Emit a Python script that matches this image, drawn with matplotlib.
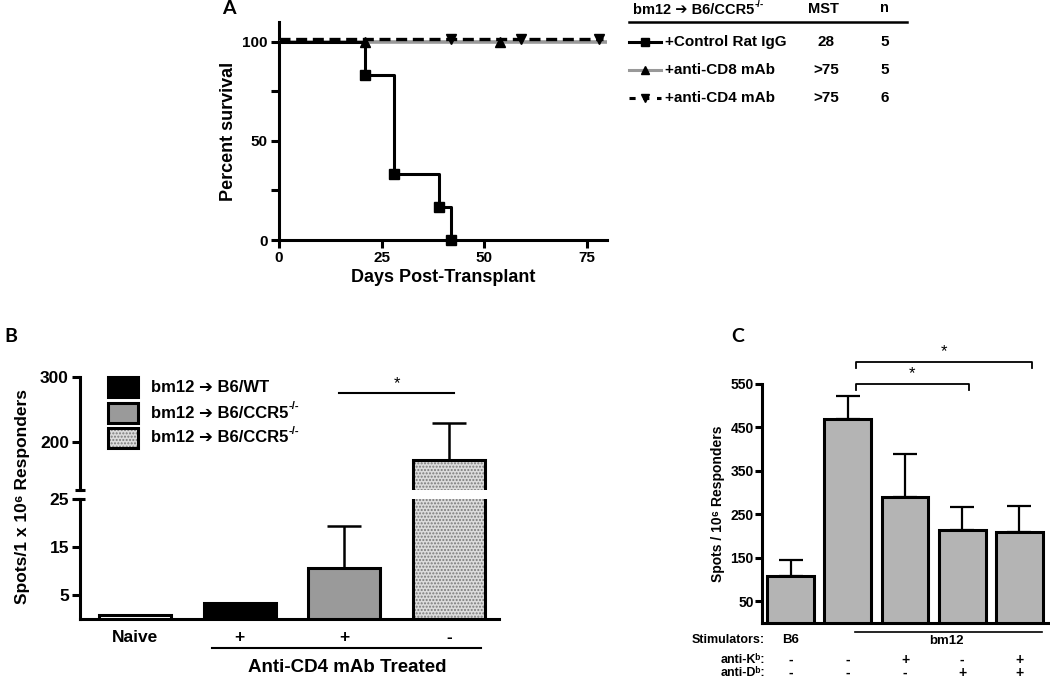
import matplotlib
matplotlib.use('Agg')
import matplotlib.pyplot as plt
import matplotlib.transforms as mtransforms
from matplotlib.lines import Line2D
from matplotlib.patches import Rectangle

# ---- Panel A: survival data ----
ctrl_days = [0, 21, 28, 39, 42]
ctrl_surv = [100, 83.3, 33.3, 16.7, 0]
cd8_days = [0, 80]
cd8_surv = [100, 100]
cd8_censored = [21, 54]
cd8_censored_surv = [100, 100]
cd4_days = [0, 79]
cd4_surv = [100, 100]
cd4_censored = [42, 59, 78]
cd4_censored_surv = [100, 100, 100]
table_rows = ['+Control Rat IgG', '+anti-CD8 mAb', '+anti-CD4 mAb']
table_mst = ['28', '>75', '>75']
table_n = ['5', '5', '6']

# ---- Panel B: ELISPOT, broken axis ----
b_labels = ['Naive', '+', '+', '-']
b_means = [0.9, 3.3, 10.6, 172]
b_sem = [0, 0, 8.8, 57]
b_legend = ['bm12 \u2794 B6/WT', 'bm12 \u2794 B6/CCR5', 'bm12 \u2794 B6/CCR5']

# ---- Panel C: ELISPOT with blocking antibodies ----
c_means = [108, 469, 289, 213, 209]
c_sem = [37, 54, 100, 55, 61]
c_kb = ['-', '-', '+', '-', '+']
c_db = ['-', '-', '-', '+', '+']

plt.rcParams['font.family'] = ['Liberation Sans', 'DejaVu Sans']
plt.rcParams['font.weight'] = 'bold'
plt.rcParams['axes.labelweight'] = 'bold'
plt.rcParams['axes.linewidth'] = 2.2
plt.rcParams['hatch.linewidth'] = 1.0

W, H = 1050, 682
fig = plt.figure(figsize=(W / 100, H / 100), dpi=100)


def px_axes(l, t, r, b):
    return fig.add_axes([l / W, 1 - b / H, (r - l) / W, (b - t) / H])


# overlay axes in pixel coordinates for annotations (drawn on top)
ov = fig.add_axes([0, 0, 1, 1])
ov.set_xlim(0, W)
ov.set_ylim(H, 0)
ov.axis('off')
ov.set_zorder(10)


def sup(txt_artist, s, size):
    ov.annotate(s, xy=(1.0, 0.95), xycoords=txt_artist, ha='left', va='center',
                fontsize=size)


# panel letters
for letter, (x, y) in zip('ABC', [(229, 9), (11, 336), (738, 337)]):
    ov.text(x, y, letter, fontsize=14, family=['Lato', 'DejaVu Sans'],
            weight='bold', ha='center', va='center')

# ================= Panel A =================
axA = px_axes(279, 22, 607, 240)
axA.plot(ctrl_days, ctrl_surv, color='black', lw=2.2, drawstyle='steps-post',
         marker='s', ms=7, markevery=slice(1, None), clip_on=False, zorder=5)
axA.plot(cd8_days, cd8_surv, color='#999999', lw=2.6, zorder=3)
axA.plot(cd8_censored, cd8_censored_surv, ls='none', marker='^', color='black',
         ms=7, zorder=4)
up = mtransforms.offset_copy(axA.transData, fig=fig, x=0, y=2, units='points')
axA.plot(cd4_days, cd4_surv, color='black', lw=2.4, ls=(0, (3.3, 1.7)),
         transform=up, zorder=4, clip_on=False)
axA.plot(cd4_censored, cd4_censored_surv, ls='none', marker='v', color='black',
         ms=7, transform=up, zorder=4, clip_on=False)
axA.set_xlim(0, 80)
axA.set_ylim(0, 110)
axA.set_xticks([0, 25, 50, 75])
axA.set_yticks([0, 25, 50, 75, 100])
axA.set_yticklabels(['0', '', '50', '', '100'])
axA.spines[['top', 'right']].set_visible(False)
axA.tick_params(width=2.2, length=6, labelsize=11, pad=2)
axA.set_xlabel('Days Post-Transplant', fontsize=13, labelpad=3)
axA.set_ylabel('Percent survival', fontsize=13, labelpad=4)

# survival table / legend
t = ov.text(633, 10, 'bm12 \u2794 B6/CCR5', fontsize=10.5, ha='left', va='center')
sup(t, '-/-', 7)
ov.text(823, 9, 'MST', fontsize=10.5, ha='center', va='center')
ov.text(884, 8, 'n', fontsize=10.5, ha='center', va='center')
ov.plot([629, 907], [22, 22], color='black', lw=1.8)
row_y = [42, 70, 98]
styles = [dict(color='black', ls='-', marker='s'),
          dict(color='#999999', ls='-', marker='^'),
          dict(color='black', ls=(0, (2, 2.5)), marker='v')]
for y, lab, mst, n, st in zip(row_y, table_rows, table_mst, table_n, styles):
    ov.add_line(Line2D([629, 661], [y, y], lw=2.2, color=st['color'], ls=st['ls']))
    ov.plot([645], [y], ls='none', marker=st['marker'], color='black', ms=6)
    ov.text(665, y, lab, fontsize=11, ha='left', va='center')
    ov.text(826, y, mst, fontsize=11, ha='center', va='center')
    ov.text(885, y, n, fontsize=11, ha='center', va='center')

# ================= Panel B =================
axBu = px_axes(80, 377, 499, 490)
axBl = px_axes(80, 499, 499, 619)
b_face = ['white', 'black', '#9a9a9a', '#dcdcdc']
xb = list(range(len(b_means)))
for ax in (axBu, axBl):
    for i, (m, fc) in enumerate(zip(b_means, b_face)):
        if i == 3:
            ax.bar(i, m, width=0.69, color=fc, hatch='.....', edgecolor='#7a7a7a',
                   lw=0, zorder=2)
            ax.bar(i, m, width=0.69, fill=False, edgecolor='black', lw=2.2, zorder=3)
        else:
            ax.bar(i, m, width=0.69, color=fc, edgecolor='black', lw=2.2, zorder=3)
    xe = [x for x, s in zip(xb, b_sem) if s > 0]
    me = [m for m, s in zip(b_means, b_sem) if s > 0]
    se = [s for s in b_sem if s > 0]
    ax.errorbar(xe, me, yerr=[[0] * len(se), se], fmt='none', ecolor='black',
                elinewidth=1.8, capsize=12, capthick=1.8, zorder=1)
    ax.set_xlim(-0.53, 3.48)
    ax.spines[['top', 'right']].set_visible(False)
    ax.tick_params(axis='y', width=2.2, length=6, labelsize=12.5, pad=2)

axBu.set_ylim(126, 300)
axBu.set_yticks([200, 300])
axBu.spines['bottom'].set_visible(False)
axBu.set_xticks([])
axBl.set_ylim(0, 25)
axBl.set_yticks([5, 15, 25])
axBl.set_xticks(xb)
axBl.set_xticklabels(b_labels, fontsize=12.5)
axBl.tick_params(axis='x', length=0, pad=8)
# break marks on the y spine
axBu.plot([0], [0], marker='_', ms=7, mew=2.2, color='black',
          transform=axBu.transAxes, clip_on=False)
axBl.plot([0], [1], marker='_', ms=7, mew=2.2, color='black',
          transform=axBl.transAxes, clip_on=False)

# significance
axBu.plot([1.95, 3.05], [275, 275], color='black', lw=1.5, clip_on=False)
axBu.text(2.5, 279, '*', ha='center', va='bottom', fontsize=12, weight='normal')

# legend
leg_y = [387, 413, 438]
for y, lab, fc in zip(leg_y, b_legend, b_face[1:]):
    if fc == '#dcdcdc':
        ov.add_patch(Rectangle((108, y - 10), 30, 20, facecolor=fc, hatch='.....',
                               edgecolor='#7a7a7a', lw=0))
        ov.add_patch(Rectangle((108, y - 10), 30, 20, fill=False,
                               edgecolor='black', lw=2.2))
    else:
        ov.add_patch(Rectangle((108, y - 10), 30, 20, facecolor=fc,
                               edgecolor='black', lw=2.2))
    t = ov.text(151, y, lab, fontsize=12, ha='left', va='center')
    if 'CCR5' in lab:
        sup(t, '-/-', 8)

ov.text(23, 497, 'Spots/1 x 10\u2076 Responders', fontsize=12.5, rotation=90,
        ha='center', va='center')
ov.plot([212, 481], [648, 648], color='black', lw=1.5)
ov.text(347, 668, 'Anti-CD4 mAb Treated', fontsize=13.5, ha='center', va='center')

# ================= Panel C =================
axC = px_axes(762, 384, 1048, 623)
xc = list(range(len(c_means)))
axC.bar(xc, c_means, width=0.82, color='#b4b4b4', edgecolor='black', lw=2.2, zorder=3)
axC.errorbar(xc, c_means, yerr=[[0] * len(c_sem), c_sem], fmt='none', ecolor='black',
             elinewidth=1.6, capsize=8.5, capthick=1.6, zorder=2)
axC.set_xlim(-0.5, 4.5)
axC.set_ylim(0, 550)
axC.set_yticks(range(50, 551, 100))
axC.set_xticks([])
axC.spines[['top', 'right']].set_visible(False)
axC.tick_params(axis='y', width=2.2, length=5, labelsize=10, pad=1)
axC.set_ylabel('Spots / 10\u2076 Responders', fontsize=10, labelpad=4)

# significance brackets
for x0, x1, y, ys in [(1.14, 3.12, 550, 575), (1.14, 4.22, 600, 624)]:
    axC.plot([x0, x0, x1, x1], [y - 13, y, y, y - 13], color='black', lw=1.3,
             clip_on=False)
    axC.text((x0 + x1) / 2, ys, '*', ha='center', va='center', fontsize=12,
             weight='normal')

bt = mtransforms.blended_transform_factory(axC.transData, ov.transData)
ov.text(765, 640, 'Stimulators:', fontsize=9, ha='right', va='center')
ov.text(765, 660, 'anti-K\u1d47:', fontsize=9, ha='right', va='center')
ov.text(765, 673, 'anti-D\u1d47:', fontsize=9, ha='right', va='center')
ov.text(0, 640, 'B6', fontsize=9.5, ha='center', va='center', transform=bt)
ov.plot([1.12, 4.39], [632, 632], color='black', lw=1.2, transform=bt)
ov.text(2.72, 641, 'bm12', fontsize=9.5, ha='center', va='center', transform=bt)
for x, k, d in zip(xc, c_kb, c_db):
    ov.text(x, 660, k, fontsize=10, ha='center', va='center', transform=bt)
    ov.text(x, 673, d, fontsize=10, ha='center', va='center', transform=bt)

fig.savefig('out.png', dpi=100)
